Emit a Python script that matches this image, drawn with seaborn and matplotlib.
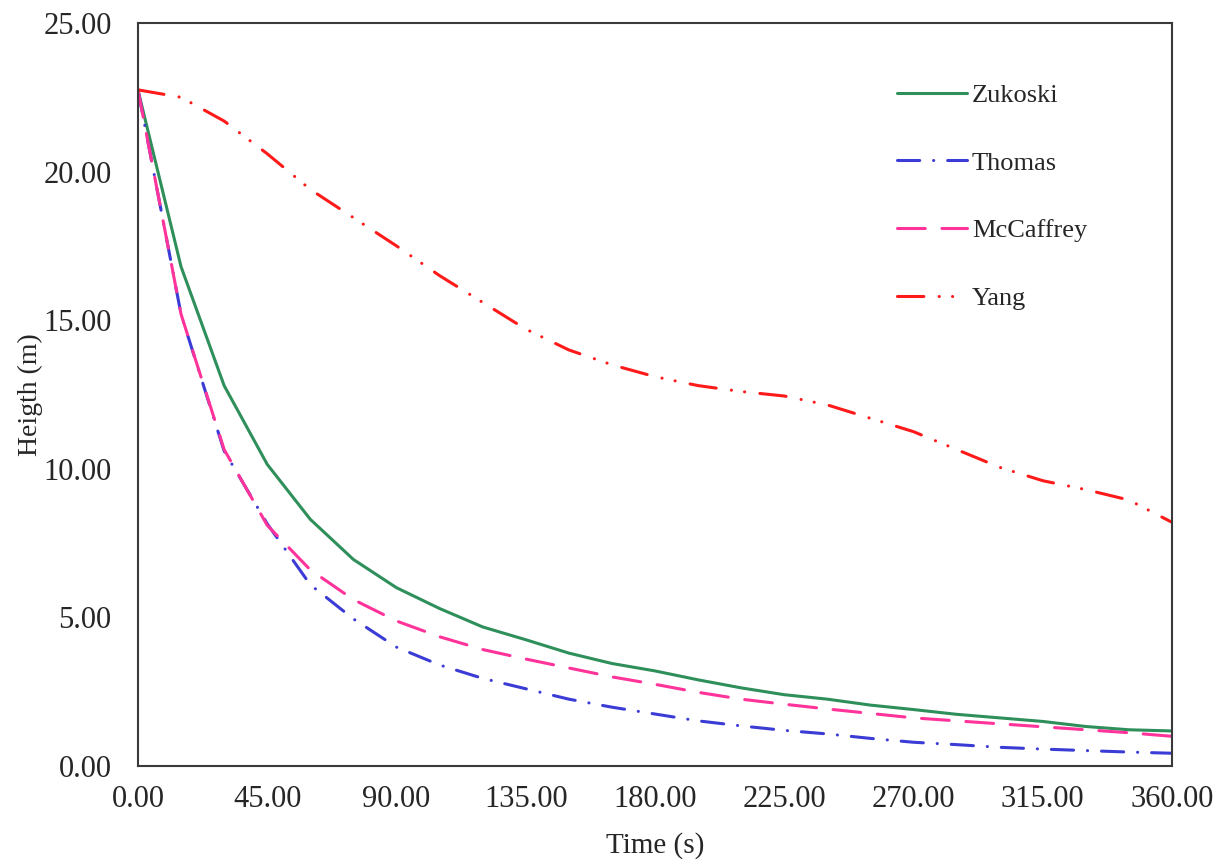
import matplotlib
matplotlib.use("Agg")
import matplotlib.pyplot as plt
from matplotlib.ticker import FormatStrFormatter, MultipleLocator
import pandas as pd
import seaborn as sns

# Smoke layer interface height over time for four plume models
time_s = [0, 15, 30, 45, 60, 75, 90, 105, 120, 135, 150, 165, 180,
          195, 210, 225, 240, 255, 270, 285, 300, 315, 330, 345, 360]

zukoski = [22.75, 16.80, 12.80, 10.15, 8.30, 6.95, 6.00, 5.30, 4.68, 4.25,
           3.80, 3.45, 3.20, 2.90, 2.63, 2.40, 2.25, 2.05, 1.90, 1.74,
           1.62, 1.50, 1.33, 1.22, 1.18]
thomas = [22.75, 15.20, 10.60, 8.15, 6.10, 4.95, 4.00, 3.40, 2.95, 2.60,
          2.25, 1.98, 1.75, 1.52, 1.35, 1.20, 1.08, 0.93, 0.80, 0.72,
          0.63, 0.57, 0.52, 0.47, 0.43]
mccaffrey = [22.75, 15.20, 10.65, 8.10, 6.60, 5.60, 4.88, 4.35, 3.92, 3.60,
             3.30, 3.00, 2.75, 2.48, 2.25, 2.08, 1.92, 1.77, 1.62, 1.52,
             1.42, 1.32, 1.22, 1.12, 1.00]
yang = [22.75, 22.50, 21.70, 20.60, 19.40, 18.45, 17.50, 16.50, 15.60, 14.70,
        14.00, 13.50, 13.10, 12.80, 12.60, 12.45, 12.15, 11.70, 11.25, 10.65,
        10.05, 9.60, 9.30, 8.95, 8.20]

models = ["Zukoski", "Thomas", "McCaffrey", "Yang"]
series = [zukoski, thomas, mccaffrey, yang]

df = pd.concat(
    [pd.DataFrame({"Time": time_s, "Height": vals, "Model": name})
     for name, vals in zip(models, series)],
    ignore_index=True,
)

palette = {
    "Zukoski": "#2F8F5B",
    "Thomas": "#3B3BD6",
    "McCaffrey": "#FF3399",
    "Yang": "#FF1A1A",
}
dashes = {
    "Zukoski": "",
    "Thomas": (16.0, 10.0, 0.1, 10.0),
    "McCaffrey": (20.0, 12.0),
    "Yang": (19.0, 11.0, 0.1, 9.5, 0.1, 11.0),
}

sns.set_theme(style="white")
plt.rcParams["font.family"] = ["Liberation Serif", "DejaVu Serif"]
plt.rcParams["lines.scale_dashes"] = False
plt.rcParams["lines.dash_capstyle"] = "round"

fig = plt.figure(figsize=(12.22, 8.61), dpi=100)
ax = fig.add_axes([0.1129, 0.1103, 0.8462, 0.863])

sns.lineplot(data=df, x="Time", y="Height", hue="Model", style="Model",
             hue_order=models, style_order=models, palette=palette,
             dashes=dashes, linewidth=2.2, ax=ax, legend=True)

ax.set_xlim(0, 360)
ax.set_ylim(0, 25)
ax.xaxis.set_major_locator(MultipleLocator(45))
ax.yaxis.set_major_locator(MultipleLocator(5))
ax.xaxis.set_major_formatter(FormatStrFormatter("%.2f"))
ax.yaxis.set_major_formatter(FormatStrFormatter("%.2f"))

for side in ["left", "bottom", "right", "top"]:
    ax.spines[side].set_visible(True)
    ax.spines[side].set_color("#3a3a3a")
    ax.spines[side].set_linewidth(1.5)

ax.tick_params(axis="both", which="major", direction="out", length=6,
               width=1.3, color="#3a3a3a", labelsize=22)
ax.tick_params(axis="y", pad=13)
ax.tick_params(axis="x", pad=8)

ax.set_xlabel("Time (s)", fontsize=21, labelpad=13)
ax.set_ylabel("Heigth (m)", fontsize=20, labelpad=0)

handles, labels = ax.get_legend_handles_labels()
ax.legend(handles, labels, loc="upper left", bbox_to_anchor=(0.7236, 0.933),
          frameon=False, fontsize=19, handlelength=2.65, handletextpad=0.2,
          labelspacing=1.68, borderaxespad=0.0)

fig.savefig("out.png", dpi=100, facecolor="white")
